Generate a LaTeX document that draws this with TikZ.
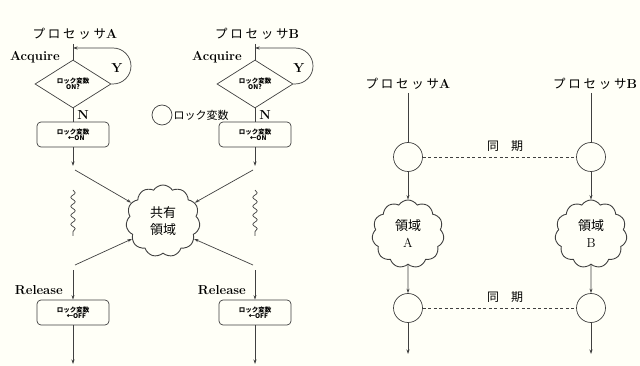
\documentclass[tikz,border=0pt]{standalone}
\usepackage{fontspec}
\newfontfamily\jp{Noto Sans CJK JP}
\newfontfamily\jpw[LetterSpace=22]{Noto Sans CJK JP}
\usetikzlibrary{shapes.geometric,shapes.symbols,decorations.pathmorphing,arrows.meta}
\begin{document}
\begin{tikzpicture}[x=1pt,y=-1pt,
  ln/.style={draw=black!75, line width=0.7pt},
  arr/.style={ln, -{Stealth[length=4.5pt,width=3pt]}},
  dia/.style={diamond, ln, minimum width=76pt, minimum height=48pt, aspect=1.58, inner sep=0pt, font=\fontsize{6.5}{7}\selectfont\jp\bfseries, align=center},
  bx/.style={rectangle, rounded corners=4pt, ln, minimum width=72pt, minimum height=25pt, inner sep=0pt, font=\fontsize{6.5}{7}\selectfont\jp\bfseries, align=center},
  cld/.style={cloud, cloud puffs=11, cloud puff arc=115, ln, line width=0.9pt, minimum width=74pt, minimum height=72pt, inner sep=0pt, font=\fontsize{13}{17}\selectfont\jp, align=center},
  ring/.style={circle, ln, minimum size=29pt, inner sep=0pt},
  ttl/.style={font=\fontsize{12.5}{14}\selectfont\jpw, inner sep=0pt},
  lbl/.style={font=\fontsize{13}{14}\selectfont\bfseries, inner sep=0pt},
  sync/.style={ln, dash pattern=on 3pt off 2.5pt},
  wav/.style={ln, decorate, decoration={snake, amplitude=2.2pt, segment length=9pt}},
]
\useasboundingbox (0,0) rectangle (640,366);
\fill[white!97!yellow] (0,0) rectangle (640,366);
\clip (0,0) rectangle (640,366);

% ---------------- left diagram ----------------
\foreach \p/\x/\n in {A/73/a, B/255/b} {
  \node[ttl] (t\n) at (\x+2,34) {プロセッサ{\rmfamily\bfseries\fontsize{13}{14}\selectfont \p}};
  \coordinate (top\n) at (\x,44);
  \coordinate (ret\n) at (\x,48);
  \node[dia] (d\n) at (\x,84) {ロック変数\\[-1pt]ON?};
  \coordinate (lp\n) at (\x+40,84);
  \node[lbl] (y\n) at (\x+44,68) {Y};
  \node[lbl] (nn\n) at (\x+10,115) {N};
  \node[bx] (on\n) at (\x,134.5) {ロック変数\\[-1pt]\quad ←ON};
  \coordinate (e1\n) at (\x,166);
  \coordinate (w1\n) at (\x,190);
  \coordinate (w2\n) at (\x,236);
  \coordinate (s2\n) at (\x,270);
  \node[bx] (off\n) at (\x,312.5) {ロック変数\\[-1pt]\quad ←OFF};
  \coordinate (e2\n) at (\x,364);
  \draw[ln] (top\n) -- (d\n.north);
  \draw[arr] (d\n.east) -- (lp\n) arc[start angle=-90, end angle=90, radius=18pt] -- (ret\n);
  \draw[ln] (d\n.south) -- (on\n.north);
  \draw[arr] (on\n.south) -- (e1\n);
  \draw[wav] (w1\n) -- (w2\n);
  \draw[arr] (s2\n) -- (off\n.north);
  \draw[arr] (off\n.south) -- (e2\n);
}
\node[lbl, anchor=east] (acqa) at (60,57) {Acquire};
\node[lbl, anchor=east] (acqb) at (242,57) {Acquire};
\node[lbl, anchor=east] (rela) at (63,290) {Release};
\node[lbl, anchor=east] (relb) at (246,290) {Release};
\node[cld] (sh) at (163,221) {共有\\領域};
\coordinate (ia) at (75,170);
\coordinate (ib) at (253,170);
\coordinate (oa) at (75,265);
\coordinate (ob) at (253,265);
\draw[arr] (ia) -- (sh.150);
\draw[arr] (ib) -- (sh.30);
\draw[arr] (oa) -- (sh.-150);
\draw[arr] (ob) -- (sh.-30);
\node[circle, ln, minimum size=20pt, inner sep=0pt] (lg) at (162,115) {};
\node[anchor=west, inner sep=1pt, font=\fontsize{11}{13}\selectfont\jp] (lgt) at (lg.east) {ロック変数};

% ---------------- right diagram ----------------
\foreach \p/\x/\n/\tx in {A/408/a/408, B/591/b/595} {
  \node[ttl] (rt\n) at (\tx,84) {プロセッサ{\rmfamily\bfseries\fontsize{13}{14}\selectfont \p}};
  \coordinate (rs\n) at (\x,93);
  \node[ring] (c1\n) at (\x,157) {};
  \node[cld, minimum width=72pt, minimum height=68pt] (r\n) at (\x,234) {領域\\{\rmfamily\fontsize{13}{15}\selectfont \p}};
  \node[ring] (c2\n) at (\x,308) {};
  \coordinate (re\n) at (\x,354);
  \draw[ln] (rs\n) -- (c1\n.north);
  \draw[arr] (c1\n.south) -- (r\n.north);
  \draw[arr] (r\n.south) -- (c2\n.north);
  \draw[arr] (c2\n.south) -- (re\n);
}
\draw[sync] (c1a.east) -- (c1b.west);
\draw[sync] (c2a.east) -- (c2b.west);
\node[font=\fontsize{12}{13}\selectfont\jp] (sy1) at (505,146) {同\quad 期};
\node[font=\fontsize{12}{13}\selectfont\jp] (sy2) at (505,297) {同\quad 期};
\end{tikzpicture}
\end{document}
